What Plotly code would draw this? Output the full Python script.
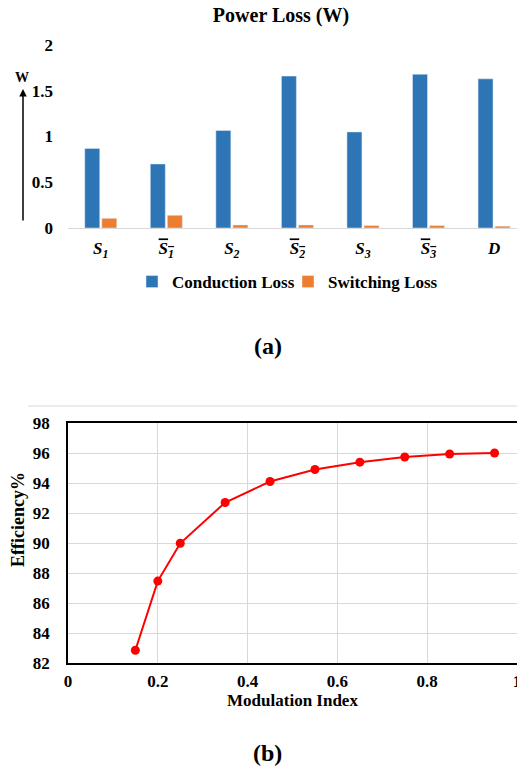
import plotly.graph_objects as go

# ---- data (a) ----
devices = ["S1", "S1bar", "S2", "S2bar", "S3", "S3bar", "D"]
device_labels = [
    "<b><i>S<sub>1</sub></i></b>",
    "<b><i><span style=\"text-decoration:overline\">S<sub>1</sub></span></i></b>",
    "<b><i>S<sub>2</sub></i></b>",
    "<b><i><span style=\"text-decoration:overline\">S<sub>2</sub></span></i></b>",
    "<b><i>S<sub>3</sub></i></b>",
    "<b><i><span style=\"text-decoration:overline\">S<sub>3</sub></span></i></b>",
    "<b><i>D</i></b>",
]
conduction_loss = [0.87, 0.70, 1.066, 1.66, 1.05, 1.68, 1.63]
switching_loss = [0.106, 0.139, 0.033, 0.033, 0.027, 0.027, 0.020]
loss_ticks = [0, 0.5, 1, 1.5, 2]

# ---- data (b) ----
modulation_index = [0.15, 0.2, 0.25, 0.35, 0.45, 0.55, 0.65, 0.75, 0.85, 0.95]
efficiency = [82.85, 87.46, 89.98, 92.7, 94.1, 94.9, 95.39, 95.73, 95.93, 96.0]
mi_ticks = [0, 0.2, 0.4, 0.6, 0.8, 1]
eff_ticks = [82, 84, 86, 88, 90, 92, 94, 96, 98]

FONT = "Liberation Serif"
W, H = 517, 771

def py(p):
    return 1 - p / H

def bold(vals):
    return ["<b>%g</b>" % v for v in vals]

fig = go.Figure()
fig.add_trace(go.Bar(x=devices, y=conduction_loss, name="<b>Conduction Loss</b>",
                     marker_color="#2E75B6", xaxis="x", yaxis="y", legend="legend"))
fig.add_trace(go.Bar(x=devices, y=switching_loss, name="<b>Switching Loss</b>",
                     marker_color="#ED7D31", xaxis="x", yaxis="y", legend="legend2"))
fig.add_trace(go.Scatter(x=modulation_index, y=efficiency, mode="lines+markers",
                         line=dict(color="#FF0000", width=2),
                         marker=dict(color="#FF0000", size=9),
                         showlegend=False, xaxis="x2", yaxis="y2"))

legend_common = dict(orientation="h", yanchor="middle", xanchor="left",
                     font=dict(size=17), itemwidth=30, bgcolor="rgba(0,0,0,0)")

fig.update_layout(
    width=W, height=H,
    margin=dict(l=0, r=0, t=0, b=0, autoexpand=False),
    paper_bgcolor="white", plot_bgcolor="white",
    font=dict(family=FONT, color="black", size=17),
    barmode="group", bargap=0.48, bargroupgap=0.12,
    title=dict(text="<b>Power Loss (W)</b>", x=281 / W, xanchor="center",
               y=py(15), yanchor="middle", font=dict(size=20)),
    legend=dict(x=132 / W, y=py(282), **legend_common),
    legend2=dict(x=288 / W, y=py(282), **legend_common),
    xaxis=dict(domain=[68 / W, 1], range=[-0.5, 6.35], tickmode="array",
               tickvals=devices, ticktext=device_labels, showgrid=False,
               showline=True, linecolor="#d9d9d9", linewidth=1, ticks="",
               anchor="y", tickfont=dict(size=17), automargin=False,
               ticklabelstandoff=5),
    yaxis=dict(domain=[py(228), py(45)], range=[0, 2], showgrid=False,
               zeroline=False, showline=False, ticks="", anchor="x",
               tickmode="array", tickvals=loss_ticks, ticktext=bold(loss_ticks),
               tickfont=dict(size=17), ticklabelstandoff=14, automargin=False),
    xaxis2=dict(domain=[68 / W, 1], range=[0, 1], showgrid=True,
                gridcolor="#d9d9d9", gridwidth=1, showline=True, linecolor="black",
                linewidth=1.5, mirror=True, ticks="", anchor="y2",
                tickmode="array", tickvals=mi_ticks, ticktext=bold(mi_ticks),
                zeroline=False, tickfont=dict(size=17), automargin=False,
                ticklabeloverflow="allow", ticklabelstandoff=2,
                title=dict(text="<b>Modulation Index</b>", font=dict(size=17), standoff=0)),
    yaxis2=dict(domain=[py(663), py(423)], range=[82, 98], showgrid=True,
                gridcolor="#d9d9d9", gridwidth=1, showline=True, linecolor="black",
                linewidth=1.5, mirror=True, ticks="", anchor="x2", zeroline=False,
                tickmode="array", tickvals=eff_ticks, ticktext=bold(eff_ticks),
                tickfont=dict(size=17), automargin=False, ticklabelstandoff=13),
)

# y-axis title of (b), placed like the reference
fig.add_annotation(xref="paper", yref="paper", x=18 / W, y=py(520), text="<b>Efficiency%</b>",
                   textangle=-90, showarrow=False, font=dict(size=18),
                   xanchor="center", yanchor="middle")
# axis arrow and unit
fig.add_annotation(xref="paper", yref="paper", x=23 / W, y=py(89), ax=0, ay=133,
                   text="", showarrow=True, arrowhead=2, arrowsize=1, arrowwidth=1.5,
                   arrowcolor="black")
fig.add_annotation(xref="paper", yref="paper", x=22 / W, y=py(78), text="<b>W</b>",
                   showarrow=False, font=dict(size=14), xanchor="center", yanchor="middle")
fig.add_annotation(xref="paper", yref="paper", x=268 / W, y=py(346), text="<b>(a)</b>",
                   showarrow=False, font=dict(size=24), xanchor="center", yanchor="middle")
fig.add_annotation(xref="paper", yref="paper", x=267 / W, y=py(753), text="<b>(b)</b>",
                   showarrow=False, font=dict(size=24), xanchor="center", yanchor="middle")
# chart-area border line
fig.add_shape(type="line", xref="paper", yref="paper", x0=28 / W, x1=1, y0=py(406), y1=py(406),
              line=dict(color="#d9d9d9", width=1))

fig.write_html("out.html", config={"displayModeBar": False},
               post_script="document.body.style.margin='0';")
